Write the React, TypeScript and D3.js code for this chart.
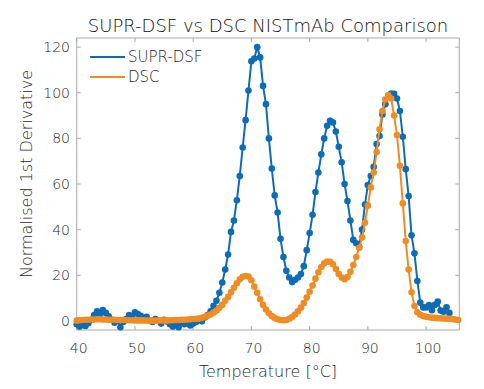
import * as d3 from "d3"
import { useRef, useEffect } from "react"

// sampling temperatures (°C)
const temperature = [
  40, 40.5, 41, 41.5, 42, 42.5, 43, 43.5, 44, 44.5,
  45, 45.5, 46, 46.5, 47, 47.5, 48, 48.5, 49, 49.5,
  50, 50.5, 51, 51.5, 52, 52.5, 53, 53.5, 54, 54.5,
  55, 55.5, 56, 56.5, 57, 57.5, 58, 58.5, 59, 59.5,
  60, 60.5, 61, 61.5, 62, 62.5, 63, 63.5, 64, 64.5,
  65, 65.5, 66, 66.5, 67, 67.5, 68, 68.5, 69, 69.5,
  70, 70.5, 71, 71.5, 72, 72.5, 73, 73.5, 74, 74.5,
  75, 75.5, 76, 76.5, 77, 77.5, 78, 78.5, 79, 79.5,
  80, 80.5, 81, 81.5, 82, 82.5, 83, 83.5, 84, 84.5,
  85, 85.5, 86, 86.5, 87, 87.5, 88, 88.5, 89, 89.5,
  90, 90.5, 91, 91.5, 92, 92.5, 93, 93.5, 94, 94.5,
  95, 95.5, 96, 96.5, 97, 97.5, 98, 98.5, 99, 99.5,
  100, 100.5, 101, 101.5, 102, 102.5, 103, 103.5, 104, 104.5,
  105, 105.5,
]

const suprDsf = [
  -1.5, -2.5, -1.8, -2.2, -1.0, 0.5, 2.5, 4.2, 3.0, 4.8,
  3.5, 2.0, 0.5, -0.8, 0.2, -2.8, -0.5, 0.8, 2.5, 1.8,
  3.8, 3.0, 2.2, 1.0, 1.8, 0.2, -0.5, 0.8, 0.0, -1.2,
  0.5, -0.3, -1.5, -2.5, -1.0, -2.8, -0.8, -1.5, 0.3, -2.0,
  -1.2, -0.5, 0.8, -0.2, 1.5, 2.5, 4.2, 6.6, 8.8, 12.3,
  16.8, 22.5, 29.1, 39.0, 44.0, 52.9, 63.5, 76.0, 88.0, 101.0,
  113.8, 115.0, 120.0, 115.5, 103.0, 95.0, 80.0, 66.8, 55.0, 47.5,
  36.0, 28.0, 22.0, 19.0, 17.0, 18.0, 19.0, 20.5, 24.0, 31.0,
  38.5, 46.5, 56.5, 65.0, 73.0, 80.0, 85.5, 87.7, 87.0, 83.0,
  76.3, 69.5, 60.0, 52.5, 44.0, 35.5, 34.0, 32.5, 40.0, 51.0,
  59.5, 63.5, 67.5, 77.5, 81.0, 90.5, 95.0, 98.5, 99.7, 99.5,
  97.5, 92.0, 80.7, 66.5, 54.7, 37.5, 29.6, 17.5, 8.0, 5.9,
  5.9, 6.9, 4.7, 7.0, 8.5, 4.5, 4.0, 6.0, 3.5,
]

const dsc = [
  0.1, 0.3, 0.4, 0.5, 0.5, 0.6, 0.6, 0.7, 0.7, 0.6,
  0.6, 0.5, 0.5, 0.5, 0.4, 0.4, 0.4, 0.3, 0.3, 0.3,
  0.2, 0.2, 0.2, 0.2, 0.1, 0.1, 0.1, 0.1, 0.1, 0.2,
  0.2, 0.2, 0.3, 0.3, 0.4, 0.4, 0.5, 0.5, 0.6, 0.7,
  0.8, 0.9, 1.0, 1.3, 1.8, 2.3, 2.8, 3.6, 4.5, 5.7,
  7.0, 8.8, 10.5, 12.5, 14.5, 16.5, 18.2, 19.3, 19.7, 19.4,
  17.8, 15.0, 12.3, 9.5, 7.0, 5.0, 3.3, 2.1, 1.3, 0.7,
  0.4, 0.3, 0.4, 0.9, 1.7, 2.8, 4.2, 5.8, 7.8, 10.2,
  12.8, 15.5, 18.5, 21.3, 23.6, 25.2, 26.0, 25.9, 24.8, 22.8,
  20.6, 19.0, 18.3, 19.2, 21.5, 24.5, 28.0, 32.0, 36.5, 43.0,
  50.5, 58.5, 65.0, 74.0, 84.0, 92.0, 97.0, 99.0, 97.5, 90.0,
  81.5, 68.0, 51.5, 35.0, 22.5, 12.5, 6.5, 3.8, 2.7, 2.1,
  1.8, 1.6, 1.4, 1.3, 1.2, 1.1, 1.0, 1.0, 0.9, 0.8,
  0.6, 0.4,
]

const xTicks = [40, 50, 60, 70, 80, 90, 100]
const yTicks = [0, 20, 40, 60, 80, 100, 120]
const seriesNames = ["SUPR-DSF", "DSC"]
const seriesColors = ["#0C6CB5", "#F08C24"]

const FONT = "'DejaVu Sans', sans-serif"

export default function App() {
  const svgRef = useRef<SVGSVGElement>(null)

  useEffect(() => {
    if (!svgRef.current) return
    const width = 484
    const height = 389
    const margin = { top: 38, right: 24.7, bottom: 59, left: 76.7 }

    const svg = d3.select(svgRef.current)
    svg.selectAll("*").remove()
    svg.attr("width", width).attr("height", height)

    const x = d3
      .scaleLinear()
      .domain([40, 105.7])
      .range([margin.left, width - margin.right])
    const y = d3
      .scaleLinear()
      .domain([-4, 124])
      .range([height - margin.bottom, margin.top])

    const axisColor = "#a8a8a8"
    const textColor = "#1e1e1e"

    // box
    svg
      .append("rect")
      .attr("x", x(40))
      .attr("y", margin.top)
      .attr("width", x(105.7) - x(40))
      .attr("height", height - margin.bottom - margin.top)
      .attr("fill", "white")
      .attr("stroke", axisColor)
      .attr("stroke-width", 1)

    const tickLen = 4
    // x ticks (bottom + top, inward)
    svg
      .append("g")
      .selectAll("line")
      .data(xTicks)
      .enter()
      .append("line")
      .attr("x1", (d) => x(d))
      .attr("x2", (d) => x(d))
      .attr("y1", height - margin.bottom)
      .attr("y2", height - margin.bottom - tickLen)
      .attr("stroke", axisColor)
    svg
      .append("g")
      .selectAll("line")
      .data(xTicks)
      .enter()
      .append("line")
      .attr("x1", (d) => x(d))
      .attr("x2", (d) => x(d))
      .attr("y1", margin.top)
      .attr("y2", margin.top + tickLen)
      .attr("stroke", axisColor)
    // y ticks (left + right)
    svg
      .append("g")
      .selectAll("line")
      .data(yTicks)
      .enter()
      .append("line")
      .attr("x1", margin.left)
      .attr("x2", margin.left + tickLen)
      .attr("y1", (d) => y(d))
      .attr("y2", (d) => y(d))
      .attr("stroke", axisColor)
    svg
      .append("g")
      .selectAll("line")
      .data(yTicks)
      .enter()
      .append("line")
      .attr("x1", width - margin.right)
      .attr("x2", width - margin.right - tickLen)
      .attr("y1", (d) => y(d))
      .attr("y2", (d) => y(d))
      .attr("stroke", axisColor)

    // tick labels
    svg
      .append("g")
      .selectAll("text")
      .data(xTicks)
      .enter()
      .append("text")
      .attr("x", (d) => x(d) + 2)
      .attr("y", 352.5)
      .attr("text-anchor", "middle")
      .style("font-family", FONT)
      .style("font-size", "14px")
      .style("font-weight", 300)
      .style("fill", textColor)
      .text((d) => d)
    svg
      .append("g")
      .selectAll("text")
      .data(yTicks)
      .enter()
      .append("text")
      .attr("x", 70)
      .attr("y", (d) => y(d))
      .attr("dy", "0.36em")
      .attr("text-anchor", "end")
      .style("font-family", FONT)
      .style("font-size", "14px")
      .style("font-weight", 300)
      .style("fill", textColor)
      .text((d) => d)

    // title and axis labels
    svg
      .append("text")
      .attr("x", (x(40) + x(105.7)) / 2)
      .attr("y", 32)
      .attr("text-anchor", "middle")
      .style("font-family", FONT)
      .style("font-size", "18px")
      .style("font-weight", 300)
      .style("fill", "#111")
      .text("SUPR-DSF vs DSC NISTmAb Comparison")
    svg
      .append("text")
      .attr("x", (x(40) + x(105.7)) / 2)
      .attr("y", 377)
      .attr("text-anchor", "middle")
      .style("font-family", FONT)
      .style("font-size", "16px")
      .style("font-weight", 300)
      .style("fill", textColor)
      .text("Temperature [°C]")
    svg
      .append("text")
      .attr("transform", "translate(32,174) rotate(-90)")
      .attr("text-anchor", "middle")
      .style("font-family", FONT)
      .style("font-size", "16px")
      .style("font-weight", 300)
      .style("fill", textColor)
      .text("Normalised 1st Derivative")

    const series = [suprDsf, dsc]
    const plot = svg.append("g")
    series.forEach((values, i) => {
      const pts = values.map((v, j) => [temperature[j], v] as [number, number])
      const line = d3
        .line<[number, number]>()
        .x((d) => x(d[0]))
        .y((d) => y(d[1]))
      plot
        .append("path")
        .datum(pts)
        .attr("fill", "none")
        .attr("stroke", seriesColors[i])
        .attr("stroke-width", 2)
        .attr("stroke-linejoin", "round")
        .attr("d", line)
      plot
        .append("g")
        .selectAll("circle")
        .data(pts)
        .enter()
        .append("circle")
        .attr("cx", (d) => x(d[0]))
        .attr("cy", (d) => y(d[1]))
        .attr("r", 3.3)
        .attr("fill", seriesColors[i])
    })

    // legend
    const legend = svg.append("g")
    seriesNames.forEach((name, i) => {
      const ly = 57 + i * 20
      legend
        .append("line")
        .attr("x1", 90)
        .attr("x2", 125)
        .attr("y1", ly)
        .attr("y2", ly)
        .attr("stroke", seriesColors[i])
        .attr("stroke-width", 2)
      legend
        .append("text")
        .attr("x", 128)
        .attr("y", ly)
        .attr("dy", "0.36em")
        .style("font-family", FONT)
        .style("font-size", "15px")
        .style("font-weight", 300)
        .style("fill", textColor)
        .text(name)
    })
  }, [])

  return (
    <div style={{ position: "absolute", left: 0, top: 0 }}>
      <svg ref={svgRef}></svg>
    </div>
  )
}
